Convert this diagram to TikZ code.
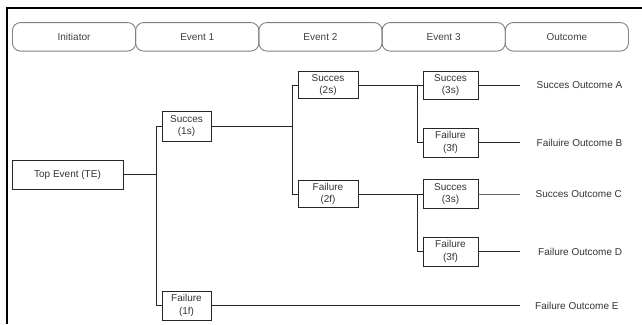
\documentclass[tikz,border=0pt]{standalone}
\usepackage{fontspec}
\setmainfont{Liberation Sans}
\begin{document}
\begin{tikzpicture}[x=1pt,y=-1pt,
  font=\fontsize{10}{11.5}\selectfont,
  hdr/.style={draw=black!50, line width=0.9pt, rounded corners=8pt, minimum width=123.2pt, minimum height=28.5pt, inner sep=0pt, text=black!75, anchor=west},
  evbox/.style={draw=black!85, line width=0.9pt, inner sep=0pt, align=center, text=black!80, font=\fontsize{10}{12.5}\selectfont},
  conn/.style={draw=black!85, line width=1pt},
  outl/.style={anchor=west, inner sep=0pt, text=black!80}]
\useasboundingbox (0,0) rectangle (642,324);
% frame
\draw[line width=1.4pt, black] (7,324) -- (7,8) -- (642,8);
% header
\node[hdr] (h1) at (12,36.8) {Initiator};
\node[hdr] (h2) at (135.2,36.8) {Event 1};
\node[hdr] (h3) at (258.4,36.8) {Event 2};
\node[hdr] (h4) at (381.6,36.8) {Event 3};
\node[hdr] (h5) at (504.8,36.8) {Outcome};
% event boxes
\node[evbox, minimum width=111pt, minimum height=29pt] (te) at (67.5,174.5) {Top Event (TE)};
\node[evbox, minimum width=49pt, minimum height=30pt] (s1) at (186.5,126) {Succes\\(1s)};
\node[evbox, minimum width=49pt, minimum height=29pt] (f1) at (186.5,305.5) {Failure\\(1f)};
\node[evbox, minimum width=60pt, minimum height=27pt] (s2) at (328,85) {Succes\\(2s)};
\node[evbox, minimum width=60pt, minimum height=27pt] (f2) at (328,194) {Failure\\(2f)};
\node[evbox, minimum width=55pt, minimum height=28pt] (s3a) at (450.5,85) {Succes\\(3s)};
\node[evbox, minimum width=55pt, minimum height=29pt] (f3b) at (450.5,142.5) {Failure\\(3f)};
\node[evbox, minimum width=55pt, minimum height=29pt] (s3c) at (450.5,194) {Succes\\(3s)};
\node[evbox, minimum width=55pt, minimum height=29pt] (f3d) at (450.5,251.5) {Failure\\(3f)};
% junctions
\coordinate (j1) at (156,174.5);
\coordinate (j2) at (292,126);
\coordinate (j3) at (417,85);
\coordinate (j4) at (417,194);
\draw[conn] (te.east) -- (j1);
\draw[conn] (j1) |- (s1.west);
\draw[conn] (j1) |- (f1.west);
\draw[conn] (s1.east) -- (j2);
\draw[conn] (j2) |- (s2.west);
\draw[conn] (j2) |- (f2.west);
\draw[conn] (s2.east) -- (j3);
\draw[conn] (j3) -- (s3a.west);
\draw[conn] (j3) |- (f3b.west);
\draw[conn] (f2.east) -- (j4);
\draw[conn] (j4) -- (s3c.west);
\draw[conn] (j4) |- (f3d.west);
% outcomes
\coordinate (ea) at (520,85);
\coordinate (eb) at (520,142.5);
\coordinate (ec) at (520,194);
\coordinate (ed) at (520,251.5);
\coordinate (ee) at (520,305.5);
\draw[conn] (s3a.east) -- (ea);
\draw[conn] (f3b.east) -- (eb);
\draw[conn, draw=black!60] (s3c.east) -- (ec);
\draw[conn] (f3d.east) -- (ed);
\draw[conn] (f1.east) -- (ee);
\node[outl] (oa) at (536.5,85) {Succes Outcome A};
\node[outl] (ob) at (536.5,142.5) {Failuire Outcome B};
\node[outl] (oc) at (535.5,194) {Succes Outcome C};
\node[outl] (od) at (538,251.5) {Failure Outcome D};
\node[outl] (oe) at (535,305.5) {Failure Outcome E};
\end{tikzpicture}
\end{document}
